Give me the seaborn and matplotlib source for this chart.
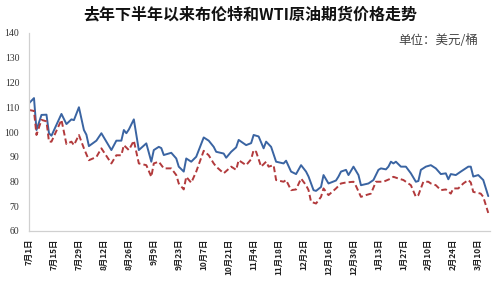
import matplotlib
matplotlib.use("Agg")
import matplotlib.pyplot as plt
import seaborn as sns
import pandas as pd

# trading-day index (0 = 7月1日) and prices
brent_day = [0, 2, 3, 5, 7, 8, 9, 13, 15, 17, 18, 20, 22, 23, 24, 27, 29, 33, 35, 37,
             38, 39, 40, 42, 44, 47, 49, 50, 52, 53, 54, 57, 59, 60, 62, 63, 65, 67,
             70, 72, 74, 75, 78, 79, 81, 83, 84, 87, 89, 90, 92, 94, 95, 97, 99, 102,
             103, 105, 107, 109, 111, 112, 114, 115, 117, 118, 120, 123, 124, 125, 127,
             128, 130, 132, 133, 136, 138, 140, 141, 143, 144, 145, 146, 147, 149, 151,
             153, 155, 156, 157, 159, 161, 163, 165, 167, 168, 169, 171, 173, 176, 177,
             178, 180, 182, 184]
brent = [111.6, 113.7, 100.8, 106.9, 107.0, 99.5, 98.5, 107.3, 103.2, 105.1, 104.8,
         110.0, 100.8, 98.9, 94.3, 96.5, 99.5, 92.7, 96.5, 96.5, 100.8, 99.5, 101.0,
         105.1, 92.7, 95.4, 88.0, 92.7, 94.0, 93.5, 90.7, 91.6, 89.3, 86.0, 84.0, 89.3,
         88.0, 90.0, 97.8, 96.5, 94.0, 92.0, 91.3, 89.6, 92.0, 93.8, 96.8, 94.7, 95.5,
         98.8, 98.2, 93.4, 96.1, 94.0, 88.0, 87.3, 88.4, 84.0, 83.0, 86.6, 84.0, 82.0,
         76.5, 76.2, 77.8, 82.6, 79.2, 80.4, 82.0, 84.0, 84.7, 82.6, 86.0, 82.6, 78.5,
         79.2, 80.6, 84.7, 85.3, 84.9, 86.0, 88.0, 87.3, 88.0, 86.0, 86.0, 83.3, 79.9,
         80.2, 84.7, 86.0, 86.6, 85.3, 83.0, 83.3, 80.9, 83.0, 82.6, 84.0, 86.0, 86.0,
         82.0, 82.6, 80.6, 74.1]

wti_day = [0, 2, 3, 5, 7, 8, 9, 13, 15, 17, 18, 20, 22, 24, 27, 29, 33, 35, 37, 38,
           40, 42, 44, 47, 49, 50, 52, 54, 57, 59, 60, 62, 63, 65, 67, 70, 72, 74, 75,
           78, 81, 83, 84, 87, 89, 90, 91, 93, 95, 96, 98, 99, 102, 103, 105, 107, 109,
           111, 112, 113, 115, 117, 118, 120, 123, 125, 127, 130, 131, 133, 135, 137,
           139, 142, 145, 146, 148, 150, 152, 153, 155, 156, 158, 160, 161, 163, 165,
           167, 169, 170, 172, 174, 176, 177, 178, 181, 182, 184]
wti = [108.9, 108.5, 98.8, 104.9, 104.3, 96.1, 96.1, 104.9, 95.1, 96.1, 94.7, 98.8,
       93.4, 88.6, 89.9, 93.4, 87.3, 90.6, 90.6, 94.7, 92.7, 96.5, 87.3, 86.6, 81.9,
       87.3, 88.0, 85.3, 85.3, 82.6, 79.2, 76.8, 81.9, 79.5, 84.0, 92.4, 90.6, 87.3,
       86.0, 83.3, 86.0, 84.7, 88.6, 86.6, 89.0, 92.7, 92.0, 86.0, 88.0, 86.0, 86.6,
       80.6, 79.9, 80.6, 76.5, 76.8, 81.2, 78.5, 76.5, 71.8, 71.1, 73.8, 77.2, 74.5,
       77.2, 79.2, 79.6, 79.9, 78.2, 73.8, 74.5, 75.1, 79.9, 79.9, 81.2, 81.9, 81.2,
       80.6, 79.2, 78.5, 73.8, 74.5, 79.9, 79.9, 79.2, 78.5, 76.5, 76.8, 75.1, 77.2,
       77.2, 79.2, 80.6, 79.6, 75.8, 75.1, 73.8, 67.3]

tick_labels = ["7月1日", "7月15日", "7月29日", "8月12日", "8月26日", "9月9日",
               "9月23日", "10月7日", "10月21日", "11月4日", "11月18日", "12月2日",
               "12月16日", "12月30日", "1月13日", "1月27日", "2月10日", "2月24日",
               "3月10日"]
tick_days = [i * 10 for i in range(len(tick_labels))]
y_ticks = [60, 70, 80, 90, 100, 110, 120, 130, 140]

sns.set_theme(style="white")
plt.rcParams['font.family'] = ['Noto Sans CJK SC', 'DejaVu Sans']

fig = plt.figure(figsize=(5, 3), dpi=100)
ax = fig.add_axes([0.058, 0.23, 0.921, 0.66])

df_b = pd.DataFrame({"day": brent_day, "price": brent})
df_w = pd.DataFrame({"day": wti_day, "price": wti})
sns.lineplot(data=df_b, x="day", y="price", ax=ax, color="#3A64A2", linewidth=1.4)
sns.lineplot(data=df_w, x="day", y="price", ax=ax, color="#B23A3C", linewidth=1.4,
             linestyle=(0, (3, 1.6)))

ax.set_xlim(0, 184.5)
ax.set_ylim(60, 140)
ax.set_xlabel("")
ax.set_ylabel("")
ax.set_yticks(y_ticks)
ax.set_yticklabels([str(v) for v in y_ticks], family=['Liberation Serif'],
                   fontsize=7, color="#333333")
ax.set_xticks(tick_days)
ax.set_xticklabels(tick_labels, rotation=90, fontsize=6, color="#222222",
                   family=['Noto Sans CJK SC', 'DejaVu Sans'], fontweight='bold')
ax.tick_params(axis='y', length=0, pad=7)
ax.tick_params(axis='x', length=2.5, width=0.6, color="#c8c8c8", pad=3, direction='out')
for s in ["top", "right"]:
    ax.spines[s].set_visible(False)
for s in ["left", "bottom"]:
    ax.spines[s].set_color("#d0d0d0")
    ax.spines[s].set_linewidth(0.9)

fig.text(0.5, 0.952, "去年下半年以来布伦特和WTI原油期货价格走势", ha="center", va="center",
         fontsize=11.5, fontweight="bold", color="#111111")
fig.text(0.956, 0.865, "单位：美元/桶", ha="right", va="center",
         fontsize=9, color="#444444")

fig.savefig("out.png", dpi=100)
